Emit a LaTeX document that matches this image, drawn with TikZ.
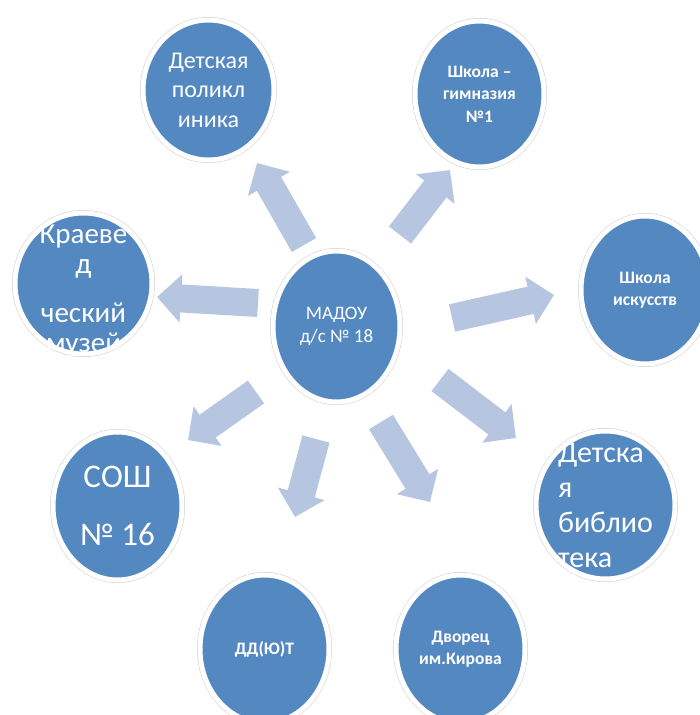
\documentclass[tikz,border=0pt]{standalone}
\usepackage{fontspec}
\setmainfont{Carlito}
\usetikzlibrary{shapes.geometric,arrows.meta}
\definecolor{circblue}{RGB}{84,136,193}
\definecolor{arrblue}{RGB}{183,198,224}
\definecolor{ringgray}{RGB}{205,205,205}
\tikzset{
  circ/.style={ellipse, fill=circblue, draw=white, line width=5pt, inner sep=0pt,
    preaction={draw=ringgray, line width=6pt}},
  lbl/.style={text=white, align=center, inner sep=0pt},
  blk/.style={draw=arrblue, line width=28pt, -{Triangle[length=24pt,width=47pt]}},
  big/.style={font=\fontsize{24}{29.5}\selectfont},
  huge/.style={font=\fontsize{30}{35}\selectfont},
  sml/.style={font=\bfseries\fontsize{17.5}{22.5}\selectfont},
}
\begin{document}
\begin{tikzpicture}[x=1pt,y=-1pt]
\useasboundingbox (0,0) rectangle (700,715);
% arrows
\coordinate (a1s) at (304,245); \coordinate (a1e) at (257,163);
\coordinate (a2s) at (258,303); \coordinate (a2e) at (157,297);
\coordinate (a3s) at (400,235); \coordinate (a3e) at (450,170);
\coordinate (a4s) at (452,318); \coordinate (a4e) at (554,295);
\coordinate (a5s) at (256,392); \coordinate (a5e) at (188,440);
\coordinate (a6s) at (316,439); \coordinate (a6e) at (295,517);
\coordinate (a7s) at (381,422); \coordinate (a7e) at (430,502);
\coordinate (a8s) at (440,380); \coordinate (a8e) at (516,438);
\foreach \i in {1,...,8} {\draw[blk] (a\i s) -- (a\i e);}
% circles
\node[circ, minimum width=131pt, minimum height=140pt] (poly) at (208.5,90) {};
\node[circ, minimum width=129pt, minimum height=146pt] (gymn) at (479.5,94) {};
\node[circ, minimum width=137pt, minimum height=141pt] (muse) at (83.5,283.5) {};
\node[circ, minimum width=127pt, minimum height=151pt] (madou) at (336.5,326.5) {};
\node[circ, minimum width=128pt, minimum height=148pt] (arts) at (645,290) {};
\node[circ, minimum width=139pt, minimum height=148pt] (lib) at (605.5,505) {};
\node[circ, minimum width=129pt, minimum height=148pt] (sosh) at (117.5,506) {};
\node[circ, minimum width=129pt, minimum height=148pt] (ddut) at (264.5,649) {};
\node[circ, minimum width=129pt, minimum height=148pt] (kirov) at (460.5,649) {};
% texts
\node[lbl, big] (poly-t) at (poly) {Детская\\поликл\\иника};
\node[lbl, sml] (gymn-t) at (gymn) {Школа –\\гимназия\\№1};
\node[lbl, font=\fontsize{29}{30}\selectfont] (muse-t) at (83.5,291.2) {Краеве\\д\\[19pt]ческий\\музей};
\node[lbl, font=\fontsize{19}{23}\selectfont] (madou-t) at (madou) {МАДОУ\\д/с № 18};
\node[lbl, sml] (arts-t) at (arts) {Школа\\искусств};
\node[lbl, huge, align=left] (lib-t) at (lib) {Детска\\я\\библио\\тека};
\node[lbl, font=\fontsize{33}{58}\selectfont] (sosh-t) at (sosh) {СОШ\\№ 16};
\node[lbl, sml] (ddut-t) at (ddut) {ДД(Ю)Т};
\node[lbl, sml] (kirov-t) at (kirov) {Дворец\\им.Кирова};
\end{tikzpicture}
\end{document}
